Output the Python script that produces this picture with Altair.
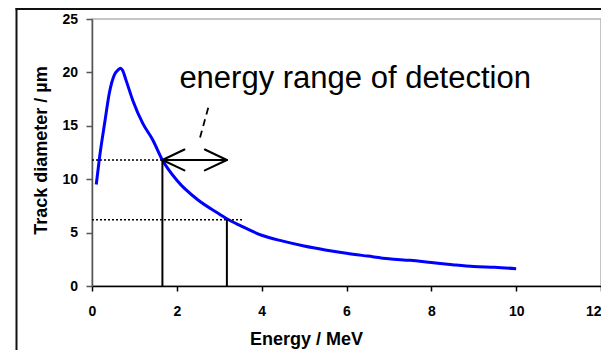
import altair as alt
import pandas as pd

# Curve values
energy = [0.1, 0.18, 0.3, 0.41, 0.53, 0.61, 0.67, 0.72, 0.8, 0.96, 1.2, 1.43, 1.66,
          2.0, 2.5, 3.0, 3.2, 3.5, 4.0, 4.5, 5.0, 5.5, 6.0, 6.5, 7.0, 7.5, 8.0,
          8.5, 9.0, 9.5, 10.0]
diameter = [9.5, 12.1, 15.3, 18.1, 19.8, 20.2, 20.4, 20.2, 19.3, 17.4, 15.2, 13.7, 11.8,
            9.9, 8.05, 6.75, 6.25, 5.65, 4.75, 4.2, 3.75, 3.38, 3.06, 2.8, 2.55, 2.4, 2.2,
            2.0, 1.83, 1.75, 1.62]

# Detection range annotation
range_energy = [1.66, 3.18]
range_diameter = [11.8, 6.2]
dotted_end = [1.66, 3.55]
head_dx = 0.52
head_dy = 0.98
pointer_x = [2.74, 2.52]
pointer_y = [16.7, 13.5]
label_text = "energy range of detection"
label_x = 2.06
label_y = 18.54

x_ticks = [0, 2, 4, 6, 8, 10, 12]
y_ticks = [0, 5, 10, 15, 20, 25]

FONT = "Liberation Sans"

curve_df = pd.DataFrame({"x": energy, "y": diameter})

xscale = alt.Scale(domain=[0, 12], nice=False, zero=False)
yscale = alt.Scale(domain=[0, 25], nice=False, zero=False)

x_axis = alt.Axis(values=x_ticks, title="Energy / MeV", grid=False, labelFlush=False,
                  labelAlign=alt.expr("datum.value == 12 ? 'right' : 'center'"),
                  domainColor="black", tickColor="black", tickSize=5, labelPadding=13,
                  labelFont=FONT, labelFontSize=14, labelFontWeight="bold", labelColor="black",
                  titleFont=FONT, titleFontSize=18, titleFontWeight="bold", titleColor="black",
                  titleX=214, titleY=58, titleAlign="center", titleBaseline="alphabetic",
                  domainWidth=1.5, tickWidth=1.5)
y_axis = alt.Axis(values=y_ticks, title="Track diameter / µm", grid=False,
                  domainColor="#555555", tickColor="#555555", tickSize=6, labelPadding=8.5,
                  labelFont=FONT, labelFontSize=14, labelFontWeight="bold", labelColor="black",
                  titleFont=FONT, titleFontSize=18, titleFontWeight="bold", titleColor="black",
                  titleX=-45.5, titleY=131, titleAngle=270, titleAlign="center",
                  titleBaseline="alphabetic", domainWidth=1.5, tickWidth=1.5)


def X(field="x"):
    return alt.X(f"{field}:Q", scale=xscale, axis=x_axis, title="Energy / MeV")


def Y(field="y"):
    return alt.Y(f"{field}:Q", scale=yscale, axis=y_axis, title="Track diameter / µm")


curve = alt.Chart(curve_df).mark_line(color="#0000ff", strokeWidth=3, interpolate="monotone").encode(
    x=X(), y=Y(),
)


def seg_chart(df, **mark_kw):
    return alt.Chart(df).mark_rule(**mark_kw).encode(
        x=X(), x2="x2:Q", y=Y(), y2="y2:Q",
    )


verticals = pd.DataFrame({
    "x": range_energy, "x2": range_energy,
    "y": [0, 0], "y2": range_diameter,
})
dotted = pd.DataFrame({
    "x": [0, 0], "x2": dotted_end,
    "y": range_diameter, "y2": range_diameter,
})
lo, hi = range_energy
ay = range_diameter[0]
arrow = pd.DataFrame({
    "x": [lo, lo, lo, hi, hi],
    "x2": [hi, lo + head_dx, lo + head_dx, hi - head_dx, hi - head_dx],
    "y": [ay, ay, ay, ay, ay],
    "y2": [ay, ay + head_dy, ay - head_dy, ay + head_dy, ay - head_dy],
})
pointer = pd.DataFrame({
    "x": [pointer_x[0]], "x2": [pointer_x[1]],
    "y": [pointer_y[0]], "y2": [pointer_y[1]],
})

vert_layer = seg_chart(verticals, color="black", strokeWidth=2)
dot_layer = seg_chart(dotted, color="black", strokeWidth=1.5, strokeDash=[2, 2])
arrow_layer = seg_chart(arrow, color="black", strokeWidth=2, strokeCap="round")
pointer_layer = seg_chart(pointer, color="black", strokeWidth=1.8, strokeDash=[7, 5])

label = alt.Chart(pd.DataFrame({"x": [label_x], "y": [label_y], "t": [label_text]})).mark_text(
    align="left", baseline="alphabetic", font=FONT, fontSize=31, color="black"
).encode(
    x=X(), y=Y(), text="t:N",
)

frame_df = pd.DataFrame({"k": [0]})
frame_left = alt.Chart(frame_df).mark_rule(color="#111111", strokeWidth=2).encode(
    x=alt.value(-75.5), y=alt.value(-11), y2=alt.value(400)
)
frame_top = alt.Chart(frame_df).mark_rule(color="#111111", strokeWidth=2).encode(
    x=alt.value(-76.5), x2=alt.value(700), y=alt.value(-10)
)

chart = alt.layer(
    curve, dot_layer, vert_layer, arrow_layer, pointer_layer, label, frame_left, frame_top
).properties(
    width=509, height=267,
    autosize=alt.AutoSizeParams(type="none"),
    padding={"left": 84, "top": 11, "right": 0, "bottom": 64},
    background="white",
).configure_view(stroke="#b3b3b3", strokeWidth=1.5)

chart.save("out.html", embed_options={"renderer": "svg", "actions": False})
